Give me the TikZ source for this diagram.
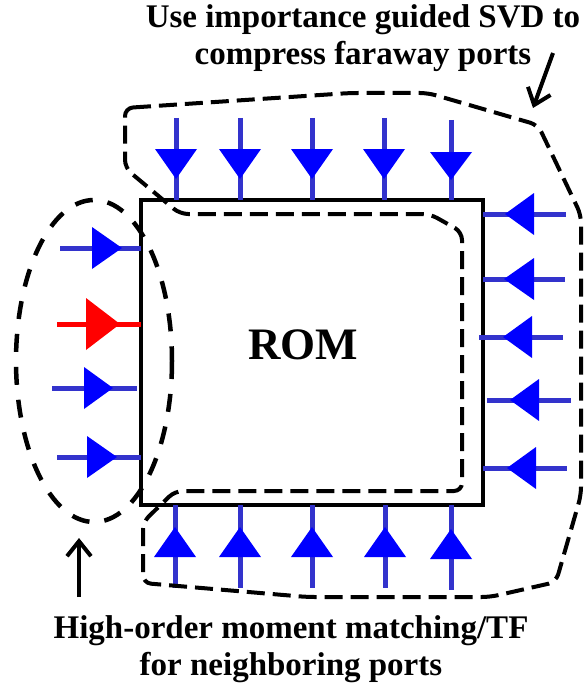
\documentclass[tikz,border=0pt]{standalone}
\usepackage{fontspec}
\setmainfont{Liberation Serif}
\usepackage{tikz}
\usetikzlibrary{arrows.meta}
\definecolor{portline}{RGB}{51,51,204}
\definecolor{portfill}{RGB}{0,0,255}
\definecolor{hotport}{RGB}{255,0,0}

\begin{document}
\begin{tikzpicture}[x=1pt,y=-1pt,
  stem/.style={portline,line width=5pt},
  tri/.style={fill=portfill},
  hotstem/.style={hotport,line width=5pt},
  hottri/.style={fill=hotport},
  region/.style={black,line width=4pt,dash pattern=on 18pt off 8pt},
  group/.style={black,line width=4.5pt,dash pattern=on 18pt off 15pt},
  pointer/.style={black,line width=4pt,-{Straight Barb[length=15pt,width=24pt]}},
  note/.style={font=\fontsize{33}{37}\selectfont\bfseries,align=center,inner sep=0pt}]
\useasboundingbox (0,0) rectangle (584,690);
\node[draw,line width=3.6pt,minimum width=342pt,minimum height=305pt,inner sep=0pt] (rom) at (312,352.5) {};
\node[font=\fontsize{45}{54}\selectfont\bfseries] (romtext) at (303,345) {ROM};
\draw[stem] (176,118) -- (176,200);
\fill[tri] (155,149) -- (197,149) -- (176,179) -- cycle;
\draw[stem] (240,118) -- (240,200);
\fill[tri] (219,149) -- (261,149) -- (240,179) -- cycle;
\draw[stem] (312,118) -- (312,200);
\fill[tri] (291,149) -- (333,149) -- (312,179) -- cycle;
\draw[stem] (384,118) -- (384,200);
\fill[tri] (363,149) -- (405,149) -- (384,179) -- cycle;
\draw[stem] (451,120) -- (451,200);
\fill[tri] (430,152) -- (472,152) -- (451,180) -- cycle;
\draw[stem] (175,505) -- (175,588);
\fill[tri] (154,557) -- (196,557) -- (175,527) -- cycle;
\draw[stem] (240,505) -- (240,588);
\fill[tri] (219,557) -- (261,557) -- (240,527) -- cycle;
\draw[stem] (312,505) -- (312,588);
\fill[tri] (291,557) -- (333,557) -- (312,527) -- cycle;
\draw[stem] (385,505) -- (385,588);
\fill[tri] (364,557) -- (406,557) -- (385,527) -- cycle;
\draw[stem] (451,505) -- (451,590);
\fill[tri] (430,559) -- (472,559) -- (451,529) -- cycle;
\draw[stem] (60,248) -- (141,248);
\fill[tri] (92,227) -- (92,269) -- (122,248) -- cycle;
\draw[hotstem] (57,324) -- (141,324);
\fill[hottri] (86,298) -- (86,350) -- (120,324) -- cycle;
\draw[stem] (52,388) -- (137,388);
\fill[tri] (84,367) -- (84,409) -- (113,388) -- cycle;
\draw[stem] (57,457) -- (141,457);
\fill[tri] (87,436) -- (87,478) -- (117,457) -- cycle;
\draw[stem] (483,214) -- (566,214);
\fill[tri] (534,193) -- (534,235) -- (505,214) -- cycle;
\draw[stem] (483,279) -- (565,279);
\fill[tri] (534,258) -- (534,300) -- (504,279) -- cycle;
\draw[stem] (479,337) -- (563,337);
\fill[tri] (532,316) -- (532,358) -- (503,337) -- cycle;
\draw[stem] (487,400) -- (571,400);
\fill[tri] (539,379) -- (539,421) -- (510,400) -- cycle;
\draw[stem] (483,468) -- (567,468);
\fill[tri] (536,447) -- (536,489) -- (507,468) -- cycle;
\draw[region,rounded corners=8pt] (125,108) -- (350,93) -- (428,93) -- (538,125) -- (581,215) -- (581,495) -- (556,582) -- (490,597) -- (307,597) -- (143,583) -- (143,522) -- (175,491) -- (462,491) -- (462,232) -- (430,214) -- (180,214) -- (125,168) -- cycle;
\draw[group] (94,361) ellipse [x radius=78, y radius=161];
\node[note] (svdtext) at (363,38) {Use importance guided SVD to\\compress faraway ports};
\node[note] (momtext) at (291,649) {High-order moment matching/TF\\for neighboring ports};
\coordinate (svdfrom) at (553,53);
\coordinate (svdto) at (533,108);
\draw[pointer] (svdfrom) -- (svdto);
\coordinate (momfrom) at (79,597);
\coordinate (momto) at (79,538);
\draw[pointer] (momfrom) -- (momto);
\end{tikzpicture}
\end{document}
